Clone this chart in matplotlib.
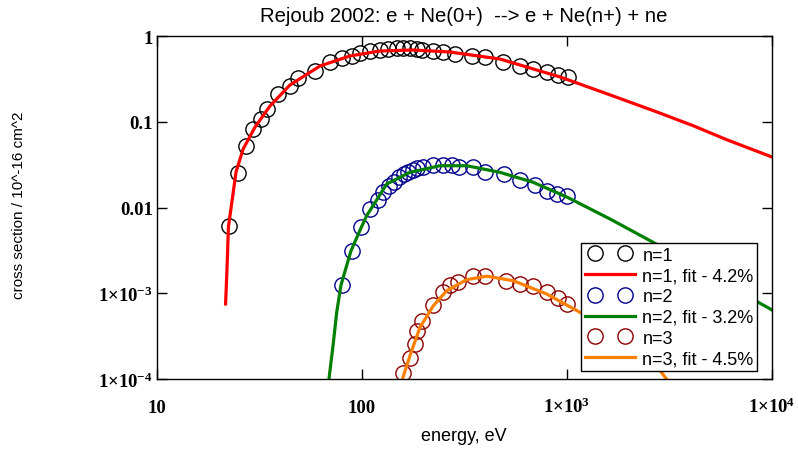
import numpy as np
import matplotlib
matplotlib.use('Agg')
import matplotlib.pyplot as plt
from matplotlib.legend_handler import HandlerLine2D

plt.rcParams['mathtext.fontset'] = 'custom'
plt.rcParams['mathtext.rm'] = 'Liberation Serif:bold'
plt.rcParams['mathtext.bf'] = 'Liberation Serif:bold'
plt.rcParams['mathtext.default'] = 'rm'

# measured cross sections (energy in eV, sigma in 1e-16 cm^2)
e_n1 = [22.4, 24.8, 27.2, 29.4, 32.1, 34.4, 38.9, 44.5, 48.7, 59.0, 69.8, 79.9, 89.3,
        97.7, 109, 122, 134, 148, 158, 171, 185, 196, 222, 248, 284, 344, 398, 488,
        590, 683, 798, 903, 1012]
s_n1 = [0.00608, 0.0252, 0.0521, 0.0823, 0.108, 0.141, 0.211, 0.261, 0.324, 0.391,
        0.497, 0.554, 0.585, 0.634, 0.668, 0.687, 0.705, 0.719, 0.725, 0.719, 0.705,
        0.692, 0.674, 0.656, 0.617, 0.589, 0.565, 0.501, 0.451, 0.412, 0.383, 0.351,
        0.333]

e_n2 = [80.2, 89.1, 98.9, 109.4, 119.3, 126.3, 135.9, 143.7, 152.1, 160.3, 168.3,
        176.8, 186.1, 197.7, 222.7, 247.6, 274, 298.5, 347, 398, 493, 590, 699, 802,
        891, 998]
s_n2 = [1.25e-3, 3.13e-3, 5.85e-3, 9.53e-3, 0.01233, 0.01528, 0.01795, 0.0200, 0.0225,
        0.0246, 0.0261, 0.0276, 0.0286, 0.0294, 0.0313, 0.0313, 0.0313, 0.0299, 0.0294,
        0.0261, 0.0246, 0.0211, 0.0184, 0.0157, 0.01436, 0.01352]

e_n3 = [158.5, 170.6, 180.4, 186.5, 196.2, 222.7, 248.4, 268.7, 295, 347, 398, 504,
        590, 685, 797, 907, 1005]
s_n3 = [1.19e-4, 1.74e-4, 2.59e-4, 3.66e-4, 4.79e-4, 7.29e-4, 1.03e-3, 1.25e-3,
        1.34e-3, 1.58e-3, 1.58e-3, 1.40e-3, 1.28e-3, 1.21e-3, 1.03e-3, 8.73e-4, 7.50e-4]

# fit curves
fit1_e = [21.6, 21.95, 22.3, 24.3, 26.3, 30.1, 35.6, 44.5, 62.4, 87.3, 122, 177, 268,
          471, 925, 1675, 2700, 4120, 6000, 10000]
fit1_s = [7.5e-4, 1.9e-3, 5.9e-3, 0.026, 0.048, 0.0869, 0.153, 0.268, 0.447, 0.585,
          0.668, 0.687, 0.651, 0.539, 0.333, 0.200, 0.132, 0.090, 0.0619, 0.0388]

fit2_e = [68.0, 69.0, 72.2, 75.3, 79.0, 88.3, 98.9, 105.4, 132, 171, 240, 324, 471,
          683, 998, 1622, 2630, 5000, 10000]
fit2_s = [7e-5, 1e-4, 2.43e-4, 6.04e-4, 1.25e-3, 3.11e-3, 5.77e-3, 8.02e-3, 0.0188,
          0.0257, 0.0307, 0.0307, 0.0257, 0.0197, 0.01325, 7.34e-3, 3.93e-3, 1.62e-3,
          6.38e-4]

fit3_e = [155.9, 158, 171.4, 191.8, 222.9, 259, 324, 406, 547, 796, 1156, 1816, 2843,
          3112]
fit3_s = [7.2e-5, 1.02e-4, 1.87e-4, 4.01e-4, 7.16e-4, 1.07e-3, 1.44e-3, 1.58e-3,
          1.40e-3, 9.80e-4, 6.00e-4, 3.01e-4, 1.25e-4, 9.5e-5]

x_ticks = [10, 100, 1000, 10000]
x_labels = ['10', '100', '1\u00d710$^{3}$', '1\u00d710$^{4}$']
y_ticks = [1e-4, 1e-3, 0.01, 0.1, 1]
y_labels = ['1\u00d710$^{-4}$', '1\u00d710$^{-3}$', '0.01', '0.1', '1']

fig = plt.figure(figsize=(7.98, 4.52), dpi=100)
ax = fig.add_axes([157 / 798, 1 - 380 / 452, 615 / 798, 343 / 452])

mk = dict(ls='none', marker='o', mfc='none', ms=11, mew=1)
h1, = ax.plot(e_n1, s_n1, mec='black', label='n=1', **mk)
l1, = ax.plot(fit1_e, fit1_s, color='#ff0000', lw=2.3, label='n=1, fit - 4.2%')
h2, = ax.plot(e_n2, s_n2, mec='#00008b', label='n=2', **mk)
l2, = ax.plot(fit2_e, fit2_s, color='#008000', lw=2.3, label='n=2, fit - 3.2%')
h3, = ax.plot(e_n3, s_n3, mec='#8b0000', label='n=3', **mk)
l3, = ax.plot(fit3_e, fit3_s, color='#ff8000', lw=2.3, label='n=3, fit - 4.5%')

ax.set_xscale('log')
ax.set_yscale('log')
ax.set_xlim(10, 1e4)
ax.set_ylim(1e-4, 1)

serif = dict(family='Liberation Serif', weight='bold', size=13.5)
ax.set_xticks(x_ticks, x_labels, fontdict=serif)
ax.set_yticks(y_ticks, y_labels, fontdict=serif)
ax.minorticks_off()
ax.tick_params(direction='in', top=True, right=True, length=7, width=1)
ax.tick_params(axis='x', pad=24)
ax.tick_params(axis='y', pad=3)
for t in ax.xaxis.get_major_ticks():
    t.label1.set_verticalalignment('baseline')
for s in ax.spines.values():
    s.set_linewidth(1)

sans = 'Liberation Sans'
fig.text(464 / 798, 1 - 17 / 452, 'Rejoub 2002: e + Ne(0+)  --> e + Ne(n+) + ne',
         ha='center', va='center', family=sans, fontsize=14.6)
fig.text(464 / 798, 1 - 437 / 452, 'energy, eV', ha='center', va='center',
         family=sans, fontsize=13)
fig.text(19 / 798, 1 - 205 / 452, 'cross section / 10^-16 cm^2', rotation=90,
         ha='center', va='center', family=sans, fontsize=11)

hm = HandlerLine2D(numpoints=2, marker_pad=0.55)
leg = ax.legend(handles=[h1, l1, h2, l2, h3, l3], loc='upper left',
                bbox_to_anchor=(581 / 798, 1 - 244 / 452), bbox_transform=fig.transFigure,
                borderaxespad=0, prop={'family': sans, 'size': 13}, fancybox=False,
                framealpha=1, edgecolor='black', handlelength=2.8, handletextpad=0.4,
                labelspacing=0.21, borderpad=0.2, handler_map={h1: hm, h2: hm, h3: hm})
leg.get_frame().set_linewidth(1)

fig.savefig('out.png', dpi=100)
